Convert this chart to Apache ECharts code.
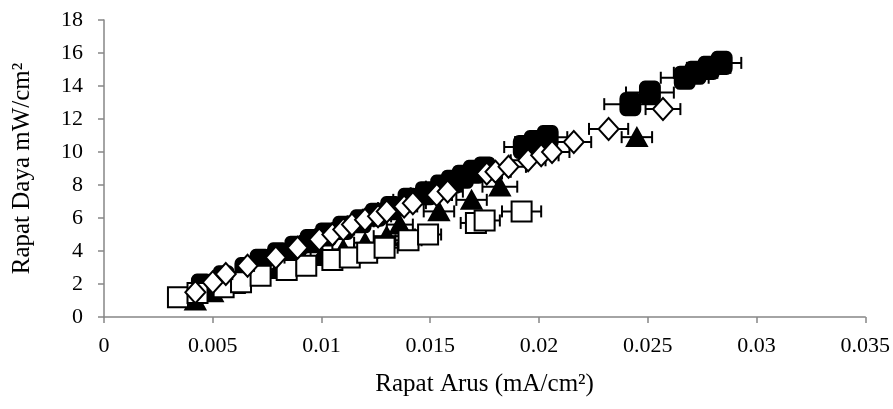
<!DOCTYPE html>
<html>
<head>
<meta charset="utf-8">
<script src="https://cdn.jsdelivr.net/npm/echarts@6/dist/echarts.min.js"></script>
<style>html,body{margin:0;padding:0;background:#fff}#c{width:893px;height:409px}</style>
</head>
<body>
<div id="c"></div>
<script>
// Filled squares
var fsX = [0.0045, 0.0055, 0.0065, 0.0072, 0.008, 0.0088, 0.0095, 0.0102, 0.011, 0.0118, 0.0125, 0.0132, 0.014, 0.0148, 0.0155, 0.016, 0.0165, 0.017, 0.0175, 0.0193, 0.0198, 0.0204, 0.0242, 0.0251, 0.0267, 0.0272, 0.0278, 0.0284];
var fsY = [1.9, 2.4, 2.9, 3.4, 3.8, 4.2, 4.6, 5.0, 5.4, 5.8, 6.2, 6.6, 7.1, 7.5, 7.9, 8.2, 8.5, 8.8, 9.0, 10.3, 10.6, 10.9, 12.9, 13.6, 14.5, 14.8, 15.1, 15.4];
var fsErr = [0.0003, 0.0003, 0.0003, 0.0004, 0.0004, 0.0004, 0.0005, 0.0005, 0.0005, 0.0006, 0.0006, 0.0006, 0.0007, 0.0007, 0.0007, 0.0008, 0.0008, 0.0008, 0.0008, 0.0009, 0.0009, 0.0009, 0.0012, 0.0011, 0.0011, 0.0010, 0.0010, 0.0009];
// Filled triangles
var trX = [0.0042, 0.005, 0.006, 0.007, 0.008, 0.009, 0.010, 0.011, 0.012, 0.013, 0.0136, 0.0154, 0.0169, 0.0182, 0.0245];
var trY = [1.0, 1.5, 2.0, 2.5, 2.9, 3.3, 3.7, 4.1, 4.5, 4.9, 5.6, 6.4, 7.1, 7.9, 10.9];
var trErr = [0.0002, 0.0002, 0.0003, 0.0003, 0.0004, 0.0004, 0.0005, 0.0005, 0.0005, 0.0006, 0.0006, 0.0007, 0.0007, 0.0008, 0.0007];
// Open squares
var osX = [0.0034, 0.0043, 0.0055, 0.0063, 0.0072, 0.0084, 0.0093, 0.0105, 0.0113, 0.0121, 0.0129, 0.014, 0.0149, 0.0171, 0.0175, 0.0192];
var osY = [1.2, 1.45, 1.8, 2.1, 2.5, 2.85, 3.1, 3.45, 3.6, 3.9, 4.2, 4.65, 5.0, 5.7, 5.85, 6.4];
var osErr = [0.0002, 0.0002, 0.0003, 0.0003, 0.0003, 0.0004, 0.0004, 0.0005, 0.0005, 0.0005, 0.0006, 0.0006, 0.0006, 0.0007, 0.0007, 0.0009];
// Open diamonds
var odX = [0.0042, 0.005, 0.0056, 0.0066, 0.0079, 0.0089, 0.0099, 0.0105, 0.011, 0.0114, 0.012, 0.0126, 0.013, 0.0138, 0.0142, 0.0153, 0.0158, 0.0176, 0.018, 0.0186, 0.0195, 0.0201, 0.0206, 0.0216, 0.0232, 0.0257];
var odY = [1.5, 2.1, 2.6, 3.1, 3.6, 4.2, 4.7, 5.0, 5.3, 5.6, 5.9, 6.1, 6.4, 6.7, 6.9, 7.4, 7.6, 8.7, 8.8, 9.1, 9.5, 9.8, 10.0, 10.6, 11.4, 12.6];
var odErr = [0.0002, 0.0002, 0.0003, 0.0003, 0.0004, 0.0004, 0.0004, 0.0005, 0.0005, 0.0005, 0.0005, 0.0006, 0.0006, 0.0006, 0.0006, 0.0007, 0.0007, 0.0007, 0.0007, 0.0008, 0.0008, 0.0008, 0.0008, 0.0008, 0.0009, 0.0008];

var xTicks = ['0', '0.005', '0.01', '0.015', '0.02', '0.025', '0.03', '0.035'];
var yTicks = ['0', '2', '4', '6', '8', '10', '12', '14', '16', '18'];

function pts(xs, ys, es) { return xs.map(function (x, i) { return [x, ys[i], es[i]]; }); }

function errSeries(data, z) {
  return {
    type: 'custom', z: z, silent: true, data: data,
    renderItem: function (params, api) {
      var x = api.value(0), y = api.value(1), e = api.value(2);
      var a = api.coord([x - e, y]), b = api.coord([x + e, y]);
      var h = 6;
      var st = { stroke: '#000', lineWidth: 2 };
      return { type: 'group', children: [
        { type: 'line', shape: { x1: a[0], y1: a[1], x2: b[0], y2: b[1] }, style: st },
        { type: 'line', shape: { x1: a[0], y1: a[1] - h, x2: a[0], y2: a[1] + h }, style: st },
        { type: 'line', shape: { x1: b[0], y1: b[1] - h, x2: b[0], y2: b[1] + h }, style: st }
      ]};
    }
  };
}
function markSeries(data, symbol, size, fill, z) {
  return {
    type: 'scatter', z: z, data: data, symbol: symbol, symbolSize: size,
    itemStyle: { color: fill, borderColor: '#000', borderWidth: 2, opacity: 1 },
    emphasis: { disabled: true }
  };
}

var fs = pts(fsX, fsY, fsErr), tr = pts(trX, trY, trErr), os = pts(osX, osY, osErr), od = pts(odX, odY, odErr);
var font = 'Liberation Serif';

var chart = echarts.init(document.getElementById('c'), null, { renderer: 'canvas' });
chart.setOption({
  animation: false,
  backgroundColor: '#fff',
  grid: { left: 104, right: 16, top: 20, bottom: 92 },
  xAxis: {
    type: 'value', min: 0, max: 0.035, interval: 0.005,
    name: 'Rapat Arus (mA/cm²)', nameLocation: 'middle', nameGap: 55,
    nameTextStyle: { fontFamily: font, fontSize: 25, color: '#000' },
    axisLine: { show: true, lineStyle: { color: '#868686', width: 1.5 } },
    axisTick: { show: true, length: 6, lineStyle: { color: '#868686', width: 1.5 } },
    axisLabel: { fontFamily: font, fontSize: 22, color: '#000', margin: 18,
      formatter: function (v) { var i = Math.round(v / 0.005); return xTicks[i] !== undefined ? xTicks[i] : ''; } },
    splitLine: { show: false }
  },
  yAxis: {
    type: 'value', min: 0, max: 18, interval: 2,
    name: 'Rapat Daya mW/cm²', nameLocation: 'middle', nameGap: 69, nameRotate: 90,
    nameTextStyle: { fontFamily: font, fontSize: 25, color: '#000' },
    axisLine: { show: true, lineStyle: { color: '#868686', width: 1.5 } },
    axisTick: { show: true, length: 6, lineStyle: { color: '#868686', width: 1.5 } },
    axisLabel: { fontFamily: font, fontSize: 22, color: '#000', margin: 21,
      formatter: function (v) { var i = Math.round(v / 2); return yTicks[i] !== undefined ? yTicks[i] : ''; } },
    splitLine: { show: false }
  },
  series: [
    errSeries(fs, 2), markSeries(fs, 'roundRect', [20, 22], '#000', 3),
    errSeries(tr, 4), markSeries(tr, 'triangle', [20, 18], '#000', 5),
    errSeries(os, 6), markSeries(os, 'rect', [20, 20], '#fff', 7),
    errSeries(od, 8), markSeries(od, 'diamond', [20, 22], '#fff', 9)
  ]
});
</script>
</body>
</html>
